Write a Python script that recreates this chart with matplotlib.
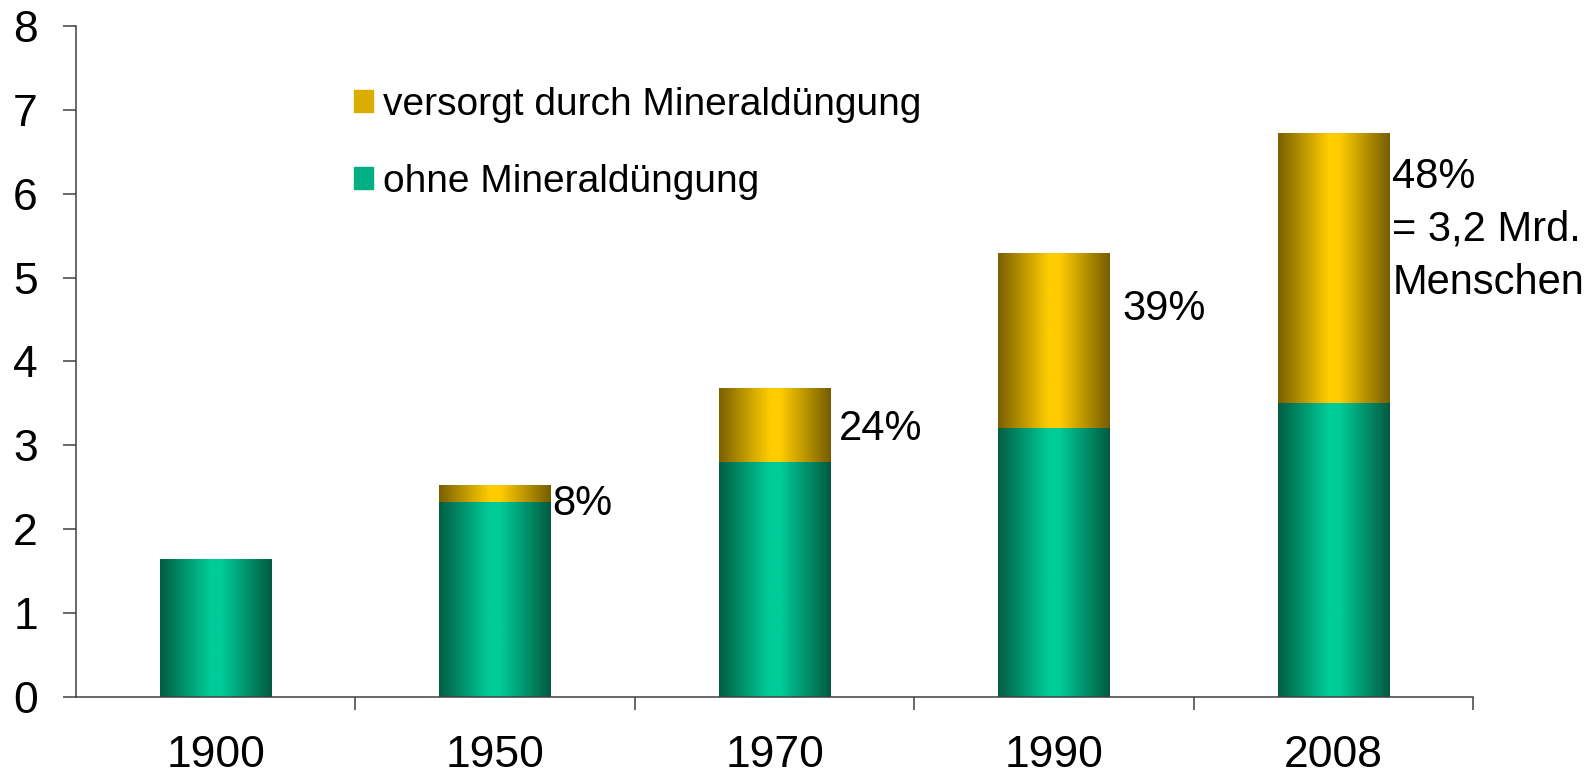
import numpy as np
import matplotlib.pyplot as plt
from matplotlib.colors import LinearSegmentedColormap
from matplotlib.patches import Patch

plt.rcParams['font.family'] = ['Liberation Sans', 'DejaVu Sans']

years = ['1900', '1950', '1970', '1990', '2008']
ohne = [1.65, 2.33, 2.80, 3.21, 3.50]        # Mrd. Menschen ohne Mineraldüngung
mineral = [0.0, 0.20, 0.88, 2.08, 3.23]      # versorgt durch Mineraldüngung
labels = ['', '8%', '24%', '39%', '48%\n= 3,2 Mrd.\nMenschen']
label_y = [0, 2.30, 3.20, 4.62, 5.57]
label_dx = [0, 1, 6, 9, 2]

green = LinearSegmentedColormap.from_list('g', [(0, '#005E42'), (0.45, '#00CC99'),
                                                (0.55, '#00CC99'), (1, '#005A40')])
gold = LinearSegmentedColormap.from_list('y', [(0, '#7A6000'), (0.45, '#FFCC00'),
                                               (0.55, '#FFCC00'), (1, '#755C00')])

fig = plt.figure(figsize=(15.96, 7.76), dpi=100)
ax = fig.add_axes([0.0476, 0.1018, 0.8755, 0.8647])

x = np.arange(len(years))
w = 0.4
b1 = ax.bar(x, ohne, w, color='#00A87E')
b2 = ax.bar(x, mineral, w, bottom=ohne, color='#D4A800')

grad = np.linspace(0, 1, 256).reshape(1, -1)
for bars, cmap in [(b1, green), (b2, gold)]:
    for bar in bars:
        x0, y0 = bar.get_xy()
        bw, bh = bar.get_width(), bar.get_height()
        if bh <= 0:
            continue
        im = ax.imshow(grad, cmap=cmap, aspect='auto', extent=[x0, x0 + bw, y0, y0 + bh],
                       zorder=bar.get_zorder() + 0.1, interpolation='bilinear')
        im.set_clip_path(bar)

for i, (lab, ly, dx) in enumerate(zip(labels, label_y, label_dx)):
    if lab:
        ax.annotate(lab, (i + w / 2, ly), xytext=(dx, 0), textcoords='offset points',
                    ha='left', va='center', fontsize=30, linespacing=1.42)

ax.set_xlim(-0.5, 4.5)
ax.set_ylim(0, 8)
ax.set_yticks(range(9))
ax.set_xticks(x)
ax.set_xticklabels(years)
ax.set_xticks(x + 0.5, minor=True)
ax.tick_params(axis='x', which='major', length=0, pad=27.5, labelsize=32)
ax.tick_params(axis='x', which='minor', length=9.5, width=1.1, color='#404040', direction='out')
ax.tick_params(axis='y', length=9.5, width=1.1, color='#404040', pad=18, labelsize=32)
for s in ['top', 'right']:
    ax.spines[s].set_visible(False)
for s in ['left', 'bottom']:
    ax.spines[s].set_color('#404040')
    ax.spines[s].set_linewidth(1.1)

handles = [Patch(color='#D9AE00'), Patch(color='#00AF84')]
fig.legend(handles, ['versorgt durch Mineraldüngung', 'ohne Mineraldüngung'],
           loc='upper left', bbox_to_anchor=(0.2218, 0.888), frameon=False,
           fontsize=28, handlelength=0.5, handleheight=0.5, handletextpad=0.25,
           labelspacing=1.05, borderpad=0, borderaxespad=0)

fig.savefig('out.png', dpi=100)
